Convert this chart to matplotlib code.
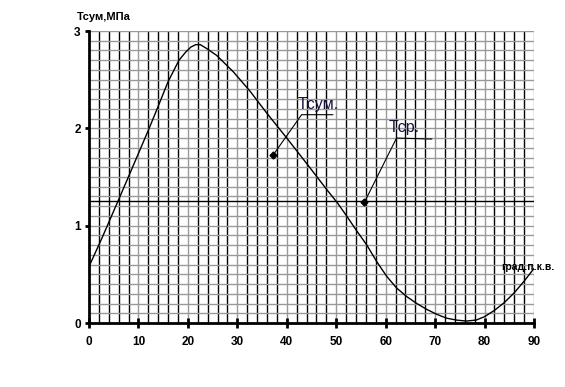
import matplotlib.pyplot as plt
from matplotlib.ticker import MultipleLocator

plt.rcParams["font.family"] = ["Liberation Sans", "DejaVu Sans"]

# crank angle, deg and total stress, MPa
angle = [0, 2.6, 6.1, 8.3, 12.0, 13.7, 16.0, 18.2, 19.5, 20.6, 21.6, 22.5, 23.8,
         25.8, 29.2, 32.6, 35.9, 40.0, 44.0, 48.1, 50.3, 52.1, 54.1, 56.2,
         58.2, 60.2, 62.2, 64.3, 66.3, 68.3, 70.3, 72.3, 74.3, 76.3, 78.3,
         80.0, 82.0, 84.0, 86.0, 88.0, 90.0]
t_sum = [0.58, 0.87, 1.28, 1.54, 1.98, 2.19, 2.48, 2.70, 2.78, 2.835, 2.86, 2.86, 2.82,
         2.75, 2.58, 2.38, 2.16, 1.90, 1.64, 1.37, 1.23, 1.10, 0.95, 0.80,
         0.63, 0.48, 0.36, 0.27, 0.20, 0.14, 0.09, 0.05, 0.03, 0.02, 0.03,
         0.065, 0.13, 0.21, 0.31, 0.43, 0.56]
t_mean = 1.25

x_ticks = [0, 10, 20, 30, 40, 50, 60, 70, 80, 90]
y_ticks = [0, 1, 2, 3]

fig = plt.figure(figsize=(5.65, 3.87), dpi=100)
ax = fig.add_axes([89 / 565, 64 / 387, 445 / 565, 292 / 387])

ax.set_xlim(0, 90)
ax.set_ylim(0, 3)
ax.set_xticks(x_ticks)
ax.set_yticks(y_ticks)
ax.xaxis.set_minor_locator(MultipleLocator(2))
ax.yaxis.set_minor_locator(MultipleLocator(0.1))

ax.grid(which="minor", axis="x", color="black", lw=1.0)
ax.grid(which="major", axis="x", color="#999999", lw=1.0)
ax.grid(which="both", axis="y", color="#999999", lw=1.0)
ax.set_axisbelow(True)

for s in ("top", "right"):
    ax.spines[s].set_visible(False)
for s in ("left", "bottom"):
    ax.spines[s].set_linewidth(2)

ax.tick_params(axis="x", which="major", direction="inout", length=7, width=2, pad=6)
ax.tick_params(axis="y", which="major", direction="out", length=3, width=2, pad=3)
ax.tick_params(which="minor", length=0)
for lab in ax.get_xticklabels() + ax.get_yticklabels():
    lab.set_fontweight("bold")
    lab.set_fontsize(8.5)

ax.plot(angle, t_sum, color="black", lw=1.0, zorder=3)
ax.axhline(t_mean, color="black", lw=1.0, zorder=3)

# leader lines with markers
ax.plot([37.3, 43.0, 49.3], [1.73, 2.14, 2.14], color="black", lw=0.8, zorder=4)
ax.plot([37.3], [1.73], marker="D", ms=3.5, color="black", zorder=5)
ax.text(42.2, 2.2, "Tсум.", fontsize=11.5, color="#1a1040", zorder=5)
ax.plot([55.7, 62.2, 69.3], [1.24, 1.90, 1.89], color="black", lw=0.8, zorder=4)
ax.plot([55.7], [1.24], marker="D", ms=3.5, color="black", zorder=5)
ax.text(60.5, 1.96, "Tср.", fontsize=11.5, color="#1a1040", zorder=5)

fig.text(77 / 565, 1 - 20 / 387, "Tсум,МПа", fontsize=8, fontweight="bold")
fig.text(501 / 565, 1 - 270 / 387, "град.п.к.в.", fontsize=7.5, fontweight="bold")

fig.savefig("out.png", dpi=100)
